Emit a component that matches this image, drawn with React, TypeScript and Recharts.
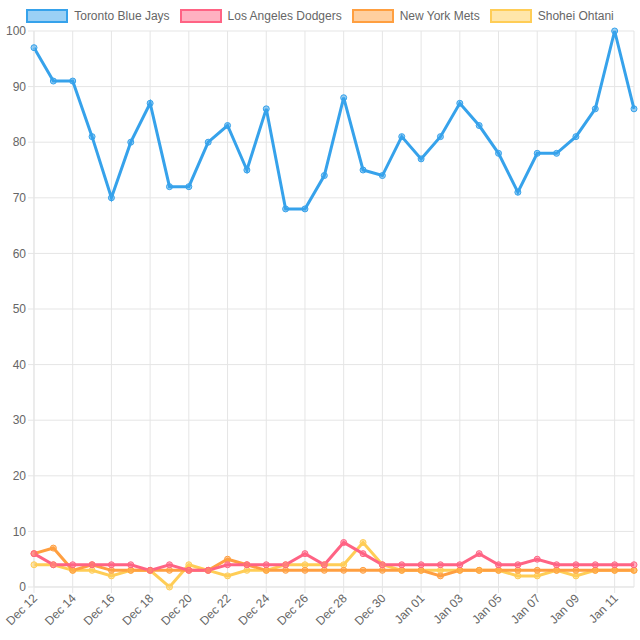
import { CartesianGrid, Line, LineChart, XAxis, YAxis } from "recharts";

const dates = [
  "Dec 12", "Dec 13", "Dec 14", "Dec 15", "Dec 16", "Dec 17", "Dec 18", "Dec 19",
  "Dec 20", "Dec 21", "Dec 22", "Dec 23", "Dec 24", "Dec 25", "Dec 26", "Dec 27",
  "Dec 28", "Dec 29", "Dec 30", "Dec 31", "Jan 01", "Jan 02", "Jan 03", "Jan 04",
  "Jan 05", "Jan 06", "Jan 07", "Jan 08", "Jan 09", "Jan 10", "Jan 11", "Jan 12",
];

const blueJays = [
  97, 91, 91, 81, 70, 80, 87, 72, 72, 80, 83, 75, 86, 68, 68, 74,
  88, 75, 74, 81, 77, 81, 87, 83, 78, 71, 78, 78, 81, 86, 100, 86,
];
const dodgers = [
  6, 4, 4, 4, 4, 4, 3, 4, 3, 3, 4, 4, 4, 4, 6, 4,
  8, 6, 4, 4, 4, 4, 4, 6, 4, 4, 5, 4, 4, 4, 4, 4,
];
const mets = [
  6, 7, 3, 4, 3, 3, 3, 3, 3, 3, 5, 4, 3, 3, 3, 3,
  3, 3, 3, 3, 3, 2, 3, 3, 3, 3, 3, 3, 3, 3, 3, 3,
];
const ohtani = [
  4, 4, 3, 3, 2, 3, 3, 0, 4, 3, 2, 3, 3, 4, 4, 4,
  4, 8, 4, 3, 3, 3, 3, 3, 3, 2, 2, 3, 2, 3, 3, 3,
];

const yTicks = [0, 10, 20, 30, 40, 50, 60, 70, 80, 90, 100];

const series = [
  { key: "blueJays", name: "Toronto Blue Jays", color: "rgb(54, 162, 235)", fill: "rgba(54, 162, 235, 0.5)" },
  { key: "dodgers", name: "Los Angeles Dodgers", color: "rgb(255, 99, 132)", fill: "rgba(255, 99, 132, 0.5)" },
  { key: "mets", name: "New York Mets", color: "rgb(255, 159, 64)", fill: "rgba(255, 159, 64, 0.5)" },
  { key: "ohtani", name: "Shohei Ohtani", color: "rgb(255, 205, 86)", fill: "rgba(255, 205, 86, 0.5)" },
];

const data = dates.map((d, i) => ({
  date: d,
  blueJays: blueJays[i],
  dodgers: dodgers[i],
  mets: mets[i],
  ohtani: ohtani[i],
}));

const font = "Arial, 'Liberation Sans', Helvetica, sans-serif";

const DateTick = ({ x, y, payload }: any) => (
  <text
    x={0}
    y={0}
    textAnchor="end"
    fontSize={12}
    fontFamily={font}
    fill="#666"
    transform={`translate(${x + 4}, ${y + 4}) rotate(-45)`}
  >
    {payload.value}
  </text>
);

const Legend = () => (
  <div
    style={{
      position: "absolute",
      top: 9,
      left: 0,
      width: 640,
      display: "flex",
      justifyContent: "center",
      fontFamily: font,
      fontSize: 12,
      lineHeight: "14px",
      color: "#666",
    }}
  >
    {series.map((s, i) => (
      <div
        key={s.key}
        style={{ display: "flex", alignItems: "center", marginLeft: i === 0 ? 0 : 10 }}
      >
        <span
          style={{
            display: "inline-block",
            boxSizing: "border-box",
            width: 42,
            height: 14,
            background: s.fill,
            border: `2.5px solid ${s.color}`,
            marginRight: 6,
          }}
        />
        <span>{s.name}</span>
      </div>
    ))}
  </div>
);

export default function App() {
  const drawOrder = [...series].reverse();
  return (
    <div style={{ position: "absolute", left: 0, top: 0, width: 640, height: 640, background: "#fff" }}>
      <Legend />
      <LineChart
        width={640}
        height={640}
        data={data}
        margin={{ top: 31, right: 6, left: 0, bottom: 0 }}
      >
        <CartesianGrid stroke="#e5e5e5" />
        <XAxis
          dataKey="date"
          interval={1}
          height={53}
          tick={<DateTick />}
          tickLine={{ stroke: "#e5e5e5" }}
          tickSize={6}
          axisLine={{ stroke: "#e5e5e5" }}
          padding={{ left: 0, right: 0 }}
        />
        <YAxis
          domain={[0, 100]}
          ticks={yTicks}
          width={34}
          tick={{ fontSize: 12, fill: "#666", fontFamily: font }}
          tickLine={{ stroke: "#e5e5e5" }}
          tickSize={6}
          axisLine={{ stroke: "#e5e5e5" }}
        />
        {drawOrder.map((s) => (
          <Line
            key={s.key}
            dataKey={s.key}
            name={s.name}
            type="linear"
            stroke={s.color}
            strokeWidth={3}
            dot={{ r: 3, fill: s.fill, stroke: s.color, strokeWidth: 1 }}
            isAnimationActive={false}
          />
        ))}
      </LineChart>
    </div>
  );
}
